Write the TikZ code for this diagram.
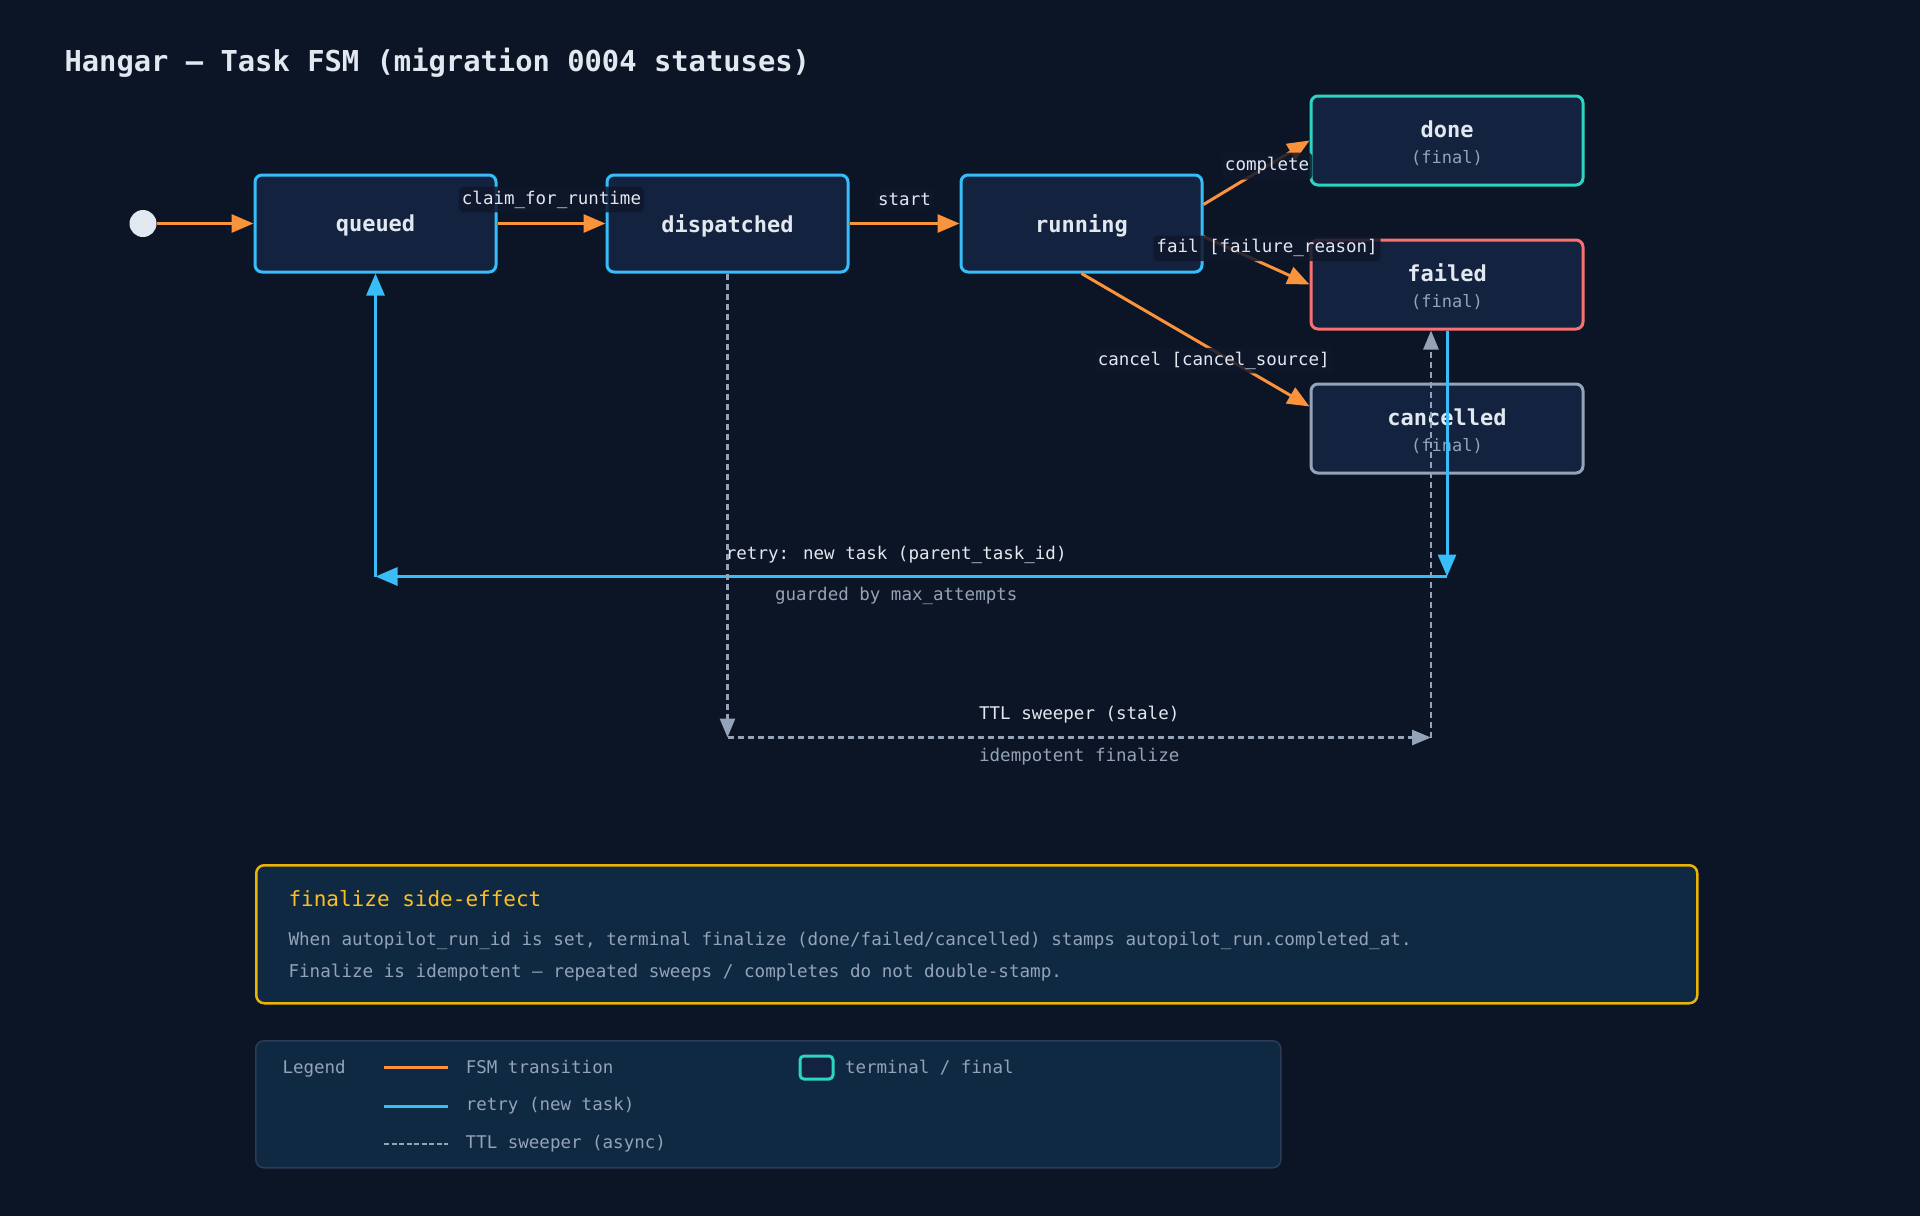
\documentclass[tikz,border=0pt]{standalone}
\usepackage{fontspec}
\setmainfont{DejaVu Sans Mono}
\usepackage{tikz}
\usetikzlibrary{arrows.meta,positioning}
\definecolor{pagebg}{HTML}{0B1526}
\definecolor{statefill}{HTML}{13233F}
\definecolor{panelfill}{HTML}{0F2942}
\definecolor{panelline}{HTML}{2B3C56}
\definecolor{lblbg}{HTML}{0F172A}
\definecolor{ink}{HTML}{E2E8F0}
\definecolor{mute}{HTML}{94A3B8}
\definecolor{flowblue}{HTML}{38BDF8}
\definecolor{floworange}{HTML}{FB923C}
\definecolor{finteal}{HTML}{2DD4BF}
\definecolor{finred}{HTML}{F87171}
\definecolor{noteyellow}{HTML}{EAB308}
\definecolor{notehead}{HTML}{FBBF24}
\newcommand{\finaltag}{{\fontsize{17}{20}\selectfont\mdseries\color{mute}(final)}}

\begin{document}
\begin{tikzpicture}[x=1pt, y=-1pt,
  every node/.style={font=\fontsize{17.5}{21}\selectfont, text=ink},
  taskstate/.style={draw=flowblue, line width=3pt, rounded corners=7pt, fill=statefill, minimum width=241pt, minimum height=97pt, text depth=0pt, font=\fontsize{22}{27}\selectfont\bfseries},
  finalstate/.style={taskstate, minimum width=272pt, minimum height=89pt, text height=46pt, align=center},
  startdot/.style={circle, fill=ink, minimum size=27pt, inner sep=0pt},
  fsm/.style={floworange, line width=3pt, -{Triangle[length=22pt,width=18pt]}},
  retry/.style={flowblue, line width=3pt, -{Triangle[length=22pt,width=18pt]}},
  sweep/.style={mute, line width=2.8pt, dash pattern=on 6pt off 4pt, -{Triangle[length=19pt,width=15pt]}},
  edgelbl/.style={fill=lblbg, fill opacity=0.85, text opacity=1, rounded corners=4pt, inner xsep=3pt, inner ysep=4pt},
  notebox/.style={draw=noteyellow, line width=2.5pt, fill=panelfill, rounded corners=8pt, minimum width=1441pt, minimum height=138pt},
  legendbox/.style={draw=panelline, line width=1.5pt, fill=panelfill, rounded corners=8pt, minimum width=1025pt, minimum height=127pt},
  keybox/.style={draw=finteal, line width=3pt, fill=statefill, rounded corners=4pt, minimum width=33pt, minimum height=23pt, inner sep=0pt}
]
\fill[pagebg] (0,0) rectangle (1920,1216);
\useasboundingbox (0,0) rectangle (1920,1216);
\node[anchor=west, font=\fontsize{28.8}{34}\selectfont\bfseries] (title) at (61,62.5) {Hangar — Task FSM (migration 0004 statuses)};

\node[startdot] (init) at (143,223.5) {};
\node[taskstate] (queued) at (375.5,223.5) {queued};
\node[taskstate, right=108pt of queued] (dispatched) {dispatched};
\node[taskstate, right=110pt of dispatched] (running) {running};
\node[finalstate, draw=finteal] (done) at (1447,140.5) {done\\[-1pt]\finaltag};
\node[finalstate, draw=finred, below=52pt of done] (failed) {failed\\[-1pt]\finaltag};
\node[finalstate, draw=mute, below=52pt of failed] (cancelled) {cancelled\\[-1pt]\finaltag};

\draw[fsm] (init) -- (queued);
\draw[fsm] (queued) -- node[edgelbl, yshift=24pt] (lclaim) {claim\_for\_runtime} (dispatched);
\draw[fsm] (dispatched) -- node[edgelbl, yshift=24pt] (lstart) {start} (running);
\draw[fsm] ([yshift=19pt]running.east) -- node[edgelbl, pos=0.6, inner ysep=5pt] (lcomplete) {complete} (done.west);
\draw[fsm] ([yshift=-13pt]running.east) -- node[edgelbl, pos=0.6, yshift=17pt] (lfail) {fail [failure\_reason]} (failed.west);
\draw[fsm] (running.south) -- node[edgelbl, pos=0.58, yshift=-10pt] (lcancel) {cancel [cancel\_source]} ([yshift=22pt]cancelled.west);

\path (failed.south) ++(0,246) coordinate (retryR);
\coordinate (retryL) at (queued.south |- retryR);
\draw[retry] (failed.south) -- (retryR);
\draw[retry] (retryR) -- node[above=8pt, pos=0.514] (lretry) {retry: new task (parent\_task\_id)} node[below=6pt, pos=0.514, text=mute] (lguard) {guarded by max\_attempts} (retryL);
\draw[retry] (retryL) -- (queued.south);

\path ([xshift=-16pt]failed.south) coordinate (failedin);
\path (dispatched.south) ++(0,464) coordinate (sweepL);
\coordinate (sweepR) at (failedin |- sweepL);
\draw[sweep] (dispatched.south) -- (sweepL);
\draw[sweep] (sweepL) -- node[above=10pt] (lttl) {TTL sweeper (stale)} node[below=6pt, text=mute] (lidem) {idempotent finalize} (sweepR);
\draw[sweep] (sweepR) -- (failedin);

\node[notebox, anchor=north west] (note) at (255,864) {};
\node[anchor=west, text=notehead, font=\fontsize{21}{25}\selectfont] (notetitle) at (285,899) {finalize side-effect};
\node[anchor=west, text=mute, font=\fontsize{17.6}{21}\selectfont] (noteline1) at (285,940.5) {When autopilot\_run\_id is set, terminal finalize (done/failed/cancelled) stamps autopilot\_run.completed\_at.};
\node[anchor=west, text=mute, font=\fontsize{17.6}{21}\selectfont] (noteline2) at (285,972.5) {Finalize is idempotent — repeated sweeps / completes do not double-stamp.};

\node[legendbox, anchor=north west] (legend) at (255,1040) {};
\node[anchor=west, text=mute] (legendhead) at (279,1069) {Legend};
\coordinate (fsmA) at (384,1067);
\coordinate (fsmB) at (448,1067);
\coordinate (retryA) at (384,1106);
\coordinate (retryB) at (448,1106);
\coordinate (sweepA) at (384,1144);
\coordinate (sweepB) at (448,1144);
\draw[fsm, -] (fsmA) -- (fsmB) node[right=13pt, text=mute] (fsmkey) {FSM transition};
\draw[retry, -] (retryA) -- (retryB) node[right=13pt, text=mute] (retrykey) {retry (new task)};
\draw[sweep, -, dash pattern=on 5pt off 2.5pt] (sweepA) -- (sweepB) node[right=13pt, text=mute] (sweepkey) {TTL sweeper (async)};
\node[keybox] (finalkey) at (816.5,1067.5) {};
\node[right=7pt of finalkey, text=mute] (finallbl) {terminal / final};
\end{tikzpicture}
\end{document}
